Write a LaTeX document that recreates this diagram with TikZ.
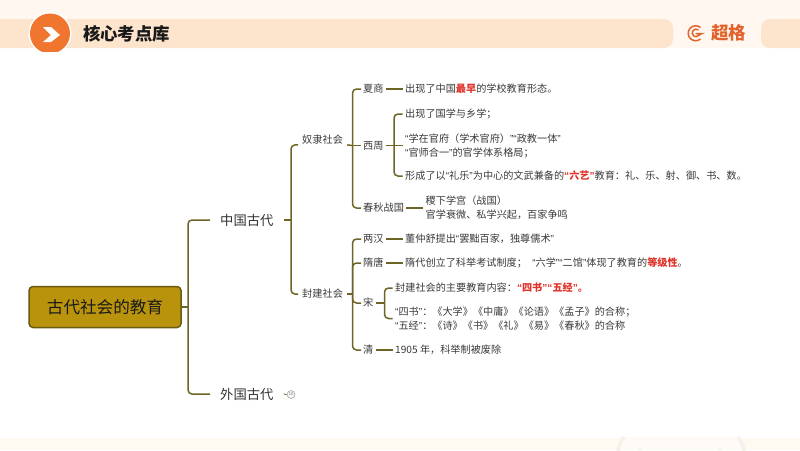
\documentclass[tikz,border=0pt]{standalone}
\usepackage{fontspec}
\setmainfont{Noto Sans CJK SC}
\newfontfamily\cjk{Noto Sans CJK SC}
\newfontfamily\qfont{Liberation Sans}
\definecolor{linecol}{HTML}{6F6428}
\definecolor{rootfill}{HTML}{B8930B}
\definecolor{rootline}{HTML}{6A5A12}
\definecolor{txt}{HTML}{3A3A3A}
\definecolor{hred}{HTML}{E0332A}
\definecolor{band}{HTML}{FDE4CC}
\definecolor{topbg}{HTML}{FFF7F0}
\definecolor{botbg}{HTML}{FEF9F1}
\definecolor{footin}{HTML}{FEFBF6}
\definecolor{footline}{HTML}{F5F2EC}
\definecolor{orng}{HTML}{F0752E}
\definecolor{logo}{HTML}{E2632C}
\newcommand{\hl}[1]{\textcolor{hred}{\textbf{#1}}}
\newcommand{\ql}{{\qfont “}}
\newcommand{\qr}{{\qfont ”}}
\tikzset{
  x=1pt,y=-1pt,
  conn/.style={draw=linecol,line width=1.5pt,rounded corners=4pt},
  big/.style={anchor=west,inner xsep=10pt,inner ysep=0pt,text=black!80,font=\cjk\fontsize{13.3}{15}\selectfont},
  mid/.style={anchor=west,inner xsep=2pt,inner ysep=0pt,text=txt,font=\cjk\fontsize{10.2}{12}\selectfont},
  leaf/.style={anchor=west,inner xsep=2.5pt,inner ysep=0pt,text=txt,align=left,font=\cjk\fontsize{10.15}{14}\selectfont},
  rootbox/.style={draw=rootline,line width=1.5pt,fill=rootfill,rounded corners=4pt,minimum width=152pt,minimum height=41pt,inner sep=0pt,text=black!90,font=\cjk\fontsize{16.6}{18}\selectfont},
}
\begin{document}
\begin{tikzpicture}
\useasboundingbox (0,0) rectangle (800,450);
\fill[white] (0,0) rectangle (800,450);
% header
\fill[topbg] (0,0) rectangle (800,48);
\fill[band,rounded corners=9pt] (-20,19) rectangle (673,48);
\fill[band,rounded corners=9pt] (761,19) rectangle (820,48);
\begin{scope}
\clip (20,0) rectangle (80,51);
\fill[white] (50,33.5) circle[radius=21.5];
\fill[orng] (50,33.5) circle[radius=20];
\end{scope}
\fill[white] (43,27) -- (51,27) -- (60,35) -- (51,42) -- (43,42) -- (51,35) -- cycle;
\node[inner sep=0pt,text=black!90,font=\cjk\bfseries\fontsize{17.4}{20}\selectfont] (title) at (126.5,34) {核心考点库};
% logo
\draw[logo,line width=1.5pt] (700.5,27.5) arc[start angle=-50,end angle=-310,radius=7.5];
\draw[logo,line width=1.5pt] (698.5,30) arc[start angle=-50,end angle=-270,radius=3.8] -- (702,33.5) -- (695.5,33.5);
\node[inner sep=0pt,text=logo,font=\cjk\bfseries\fontsize{17.5}{20}\selectfont] (brand) at (728.5,33) {超格};
% footer
\fill[botbg] (0,438) rectangle (800,450);
\fill[footin] (619,450) -- (623,437) -- (740,437) -- (744,450) -- cycle;
\draw[footline,line width=3.5pt] (618,451) .. controls (619,445) and (621,441) .. (624,437);
\draw[footline,line width=3.5pt] (744,451) .. controls (743,445) and (741,441) .. (738,437);
\fill[black!5] (638,450) -- (640,446) -- (642,450) -- cycle;
\fill[black!5] (718,450) -- (720,446) -- (722,450) -- cycle;
% nodes
\node[rootbox] (root) at (105,307) {古代社会的教育};
\coordinate (b1) at (188,307);
\node[big] (zg) at (210,220) {中国古代};
\node[big] (wg) at (210,394) {外国古代};
\coordinate (b2) at (291,220);
\node[mid,inner xsep=4pt] (nl) at (298,140) {奴隶社会};
\node[mid,inner xsep=4pt] (fj) at (298,294) {封建社会};
\coordinate (b3) at (352.5,145.5);
\coordinate (b4) at (352.5,294);
\node[mid] (xs) at (361,89) {夏商};
\node[mid] (xz) at (361,145.5) {西周};
\node[mid] (cq) at (361,208) {春秋战国};
\node[mid] (lh) at (361,239) {两汉};
\node[mid] (st) at (361,263) {隋唐};
\node[mid] (so) at (361,303) {宋};
\node[mid] (qi) at (361,350) {清};
\coordinate (b5) at (394,145.5);
\coordinate (b6) at (384.5,303);
\node[leaf] (a1) at (402.5,89) {出现了中国\hl{最早}的学校教育形态。};
\node[leaf] (a2) at (402.5,114) {出现了国学与乡学；};
\node[leaf] (a3) at (402.5,145.5) {\ql 学在官府（学术官府）\qr\ql 政教一体\qr\\\ql 官师合一\qr 的官学体系格局；};
\node[leaf] (a4) at (402.5,176) {形成了以\ql 礼乐\qr 为中心的文武兼备的\hl{\ql 六艺\qr}教育：礼、乐、射、御、书、数。};
\node[leaf] (a5) at (423,208) {稷下学宫（战国）\\官学衰微、私学兴起，百家争鸣};
\node[leaf] (c1) at (402.5,239) {董仲舒提出\ql 罢黜百家，独尊儒术\qr};
\node[leaf] (c2) at (402.5,263) {隋代创立了科举考试制度；\hspace{3pt} \ql 六学\qr\ql 二馆\qr 体现了教育的\hl{等级性}。};
\node[leaf] (c3) at (392.5,288) {封建社会的主要教育内容：\hl{\ql 四书\qr\ql 五经\qr。}};
\node[leaf] (c4) at (392.5,318.5) {\ql 四书\qr：《大学》《中庸》《论语》《孟子》的合称；\\\ql 五经\qr：《诗》《书》《礼》《易》《春秋》的合称};
\node[leaf] (c5) at (392.5,350) {1905 年，科举制被废除};
\node[draw=black!35,fill=black!4,circle,line width=.6pt,minimum size=8pt,inner sep=0pt,text=black!55,font=\cjk\fontsize{4}{4}\selectfont] (badge) at (291,394.5) {10};
% connectors
\draw[conn] (root.east) -- (b1);
\draw[conn] (b1) |- (zg.west);
\draw[conn] (b1) |- (wg.west);
\draw[conn] (zg.east) -- (b2);
\draw[conn] (b2) |- (nl.south west);
\draw[conn] (b2) |- (fj.west);
\draw[conn] (nl.south east) -- (b3);
\draw[conn] (fj.east) -- (b4);
\draw[conn] (b3) |- (xs.west);
\draw[conn] (b3) -- (xz.west);
\draw[conn] (b3) |- (cq.west);
\draw[conn] (b4) |- (lh.west);
\draw[conn] (b4) |- (st.west);
\draw[conn] (b4) |- (so.west);
\draw[conn] (b4) |- (qi.west);
\draw[conn] (xs.east) -- (a1.west);
\draw[conn] (xz.east) -- (b5);
\draw[conn] (b5) |- (a2.west);
\draw[conn] (b5) -- (a3.west);
\draw[conn] (b5) |- (a4.west);
\draw[conn] (cq.east) -- (a5.west);
\draw[conn] (lh.east) -- (c1.west);
\draw[conn] (st.east) -- (c2.west);
\draw[conn] (so.east) -- (b6);
\draw[conn] (b6) |- (c3.west);
\draw[conn] (b6) |- (c4.west);
\draw[conn] (qi.east) -- (c5.west);
\draw[conn,line width=.8pt] (wg.east) -- (badge.west);
\end{tikzpicture}
\end{document}
